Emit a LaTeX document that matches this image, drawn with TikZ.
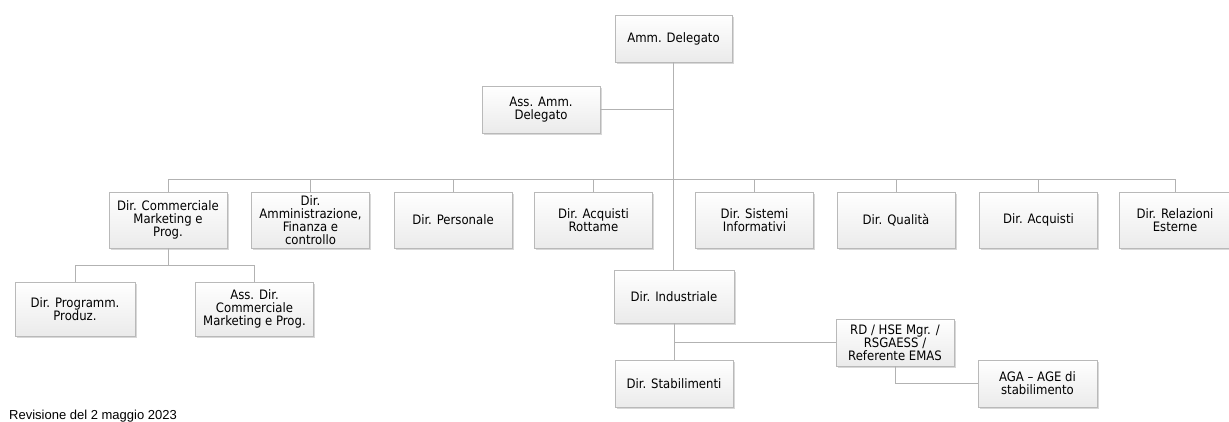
\documentclass[tikz,border=0pt]{standalone}
\usepackage{fontspec}
\setmainfont{Liberation Sans}
\newfontfamily\boxfont{DejaVu Sans Condensed}
\usetikzlibrary{shadows}

\begin{document}
\begin{tikzpicture}[
        x=1pt, y=-1pt,
        box/.style={draw=gray!55, line width=0.6pt, top color=white, bottom color=gray!16,
                    drop shadow={shadow xshift=1.6pt, shadow yshift=-1.6pt, opacity=0.3},
                    align=center, inner xsep=0.5pt, inner ysep=0pt,
                    minimum width=118pt, minimum height=47pt,
                    font=\boxfont\fontsize{13}{12.8}\selectfont},
        rowbox/.style={box, minimum height=56pt},
        link/.style={gray!60, line width=0.8pt},
        note/.style={font=\fontsize{13}{15}\selectfont, anchor=base west, inner sep=0pt}]

    \fill[white] (0,0) rectangle (1229,421);
    \useasboundingbox (0,0) rectangle (1229,421);

    % --- Vertice
    \node[box, minimum width=117pt] (amm) at (673.5,38.5) {Amm. Delegato};
    \node[box] (ass) at (541,109.5) {Ass. Amm.\\Delegato};

    % --- Direzioni (prima fila)
    \node[rowbox] (com) at (168,220)    {Dir. Commerciale\\Marketing e\\Prog.};
    \node[rowbox] (amf) at (310.5,220)  {Dir.\\Amministrazione,\\Finanza e\\controllo};
    \node[rowbox] (per) at (453,220)    {Dir. Personale};
    \node[rowbox] (rot) at (593.5,220)  {Dir. Acquisti\\Rottame};
    \node[rowbox] (sis) at (754.5,220)  {Dir. Sistemi\\Informativi};
    \node[rowbox] (qua) at (896,220)    {Dir. Qualità};
    \node[rowbox] (acq) at (1038.5,220) {Dir. Acquisti};
    \node[rowbox, minimum width=112pt] (rel) at (1175,220) {Dir. Relazioni\\Esterne};

    % --- Sotto Dir. Commerciale
    \node[box, minimum width=120pt, minimum height=54pt] (prg) at (75,309) {Dir. Programm.\\Produz.};
    \node[box, minimum height=54pt] (adc) at (254.5,309) {Ass. Dir.\\Commerciale\\Marketing e Prog.};

    % --- Area industriale
    \node[box, minimum width=120pt, minimum height=53pt] (ind) at (674,296.5) {Dir. Industriale};
    \node[box] (stb) at (674,383.5) {Dir. Stabilimenti};
    \node[box] (rd)  at (895,342.5) {RD / HSE Mgr. /\\RSGAESS /\\Referente EMAS};
    \node[box, minimum width=119pt] (aga) at (1037.5,383.5) {AGA – AGE di\\stabilimento};

    % --- Collegamenti
    \coordinate (bus) at (0,179);
    \coordinate (sub) at (0,265);
    \draw[link] (amm.south) -- (amm.south |- ind.north);
    \draw[link] (ass.east) -- (ass.east -| amm.south);
    \draw[link] (com.north |- bus) -- (rel.north |- bus);
    \foreach \n in {com,amf,per,rot,sis,qua,acq,rel}
        \draw[link] (\n.north) -- (\n.north |- bus);
    \draw[link] (com.south) -- (com.south |- sub);
    \draw[link] (prg.north) -- (prg.north |- sub) -- (adc.north |- sub) -- (adc.north);
    \draw[link] (ind.south) -- (stb.north);
    \draw[link] (ind.south |- rd.west) -- (rd.west);
    \draw[link] (rd.south) |- (aga.west);

    % --- Nota
    \node[note] (rev) at (9,419) {Revisione del 2 maggio 2023};

\end{tikzpicture}
\end{document}
